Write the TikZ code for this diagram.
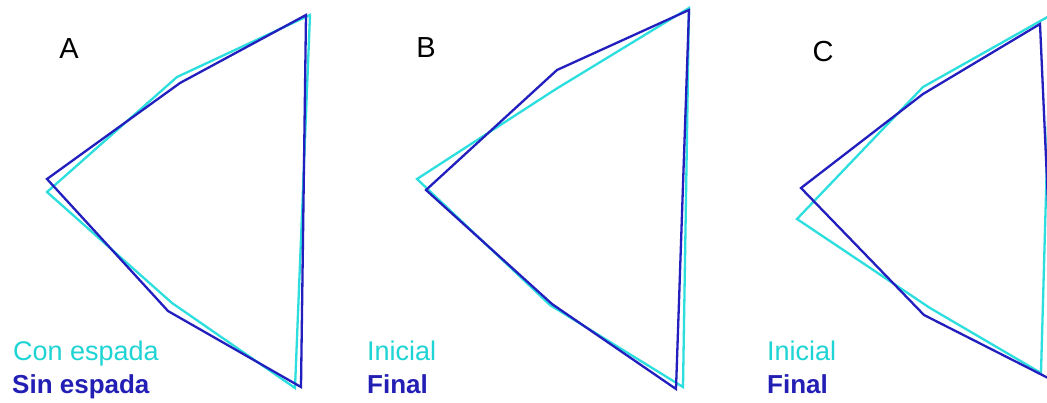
\documentclass[tikz,border=0pt]{standalone}
\usepackage{fontspec}
\setmainfont{Liberation Sans}
\definecolor{cyanline}{RGB}{45,222,222}
\definecolor{blueline}{RGB}{35,30,190}
\definecolor{cyantext}{RGB}{30,212,212}
\definecolor{bluetext}{RGB}{35,30,180}
\begin{document}
\begin{tikzpicture}[x=1pt,y=-1pt,
  cyanpoly/.style={draw=cyanline,line width=2.3pt,line join=miter},
  bluepoly/.style={draw=blueline,line width=2.3pt,line join=miter},
  panellabel/.style={font=\fontsize{29}{32}\selectfont,anchor=base,inner sep=0pt,text=black},
  legcyan/.style={font=\fontsize{27}{30}\selectfont,anchor=base west,inner sep=0pt,text=cyantext},
  legblue/.style={font=\fontsize{26}{30}\selectfont\bfseries,anchor=base west,inner sep=0pt,text=bluetext}]
\useasboundingbox (0,0) rectangle (1047,402);
\clip (0,0) rectangle (1047,402);
\fill[white] (0,0) rectangle (1047,402);
% Panel A
\draw[cyanpoly] (310,15) -- (177,77) -- (47,192) -- (172,303) -- (295,388) -- cycle;
\draw[bluepoly] (306,15) -- (180,83) -- (47,179) -- (168,311) -- (301,387) -- cycle;
\node[panellabel] (la) at (69,58) {A};
\node[legcyan] (ca) at (13,360) {Con espada};
\node[legblue] (ba) at (12,393) {Sin espada};
% Panel B
\draw[cyanpoly] (689,8) -- (556,89) -- (417,179) -- (550,305) -- (683,387) -- cycle;
\draw[bluepoly] (689,10) -- (557,70) -- (426,190) -- (552,304) -- (676,389) -- cycle;
\node[panellabel] (lb) at (426,57) {B};
\node[legcyan] (cb) at (367,360) {Inicial};
\node[legblue] (bb) at (367,393) {Final};
% Panel C
\draw[cyanpoly] (1051,15) -- (923,87) -- (797,219) -- (930,308) -- (1041,373) -- cycle;
\draw[bluepoly] (1040,24) -- (923,94) -- (801,188) -- (924,315) -- (1056,382) -- cycle;
\node[panellabel] (lc) at (823,61) {C};
\node[legcyan] (cc) at (767,360) {Inicial};
\node[legblue] (bc) at (767,393) {Final};
\end{tikzpicture}
\end{document}
